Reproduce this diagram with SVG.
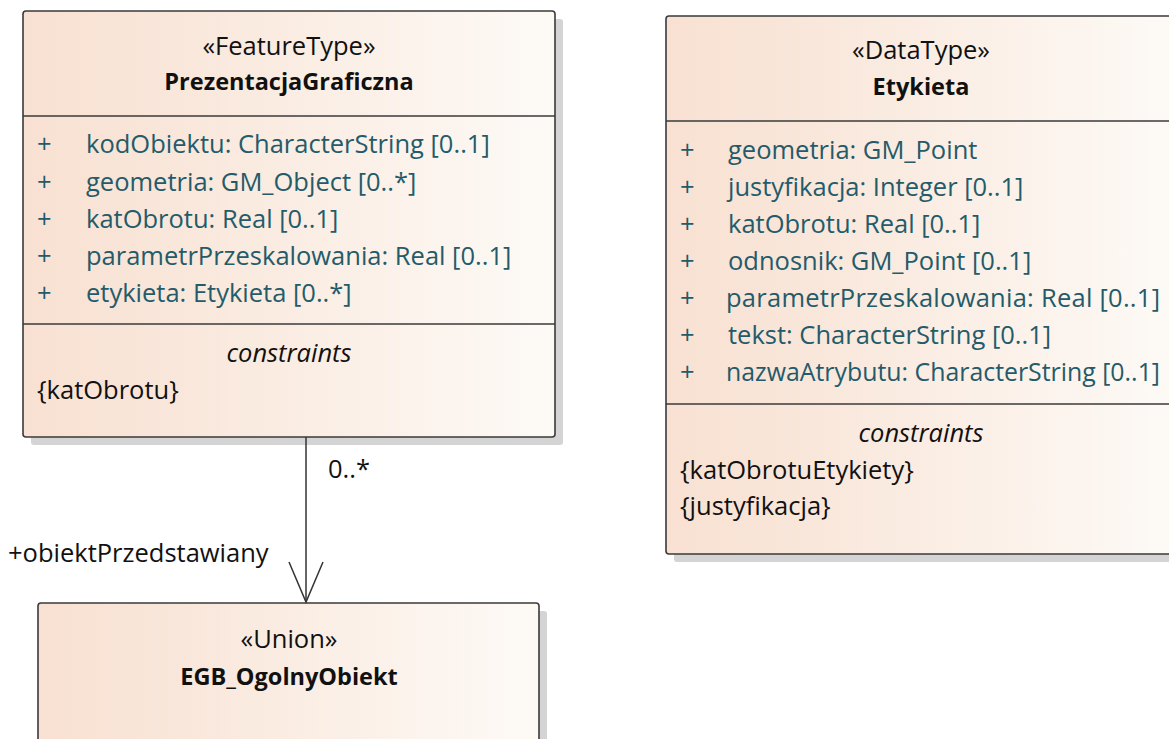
<svg xmlns="http://www.w3.org/2000/svg" width="1169" height="739" viewBox="0 0 1169 739">
<defs>
<linearGradient id="fill" x1="0" y1="0" x2="1" y2="0">
<stop offset="0" stop-color="#f8e1d2"/>
<stop offset="0.3" stop-color="#f9e7db"/>
<stop offset="1" stop-color="#fdfaf6"/>
</linearGradient>
<marker id="open" markerWidth="50" markerHeight="40" refX="0" refY="0" orient="auto" markerUnits="userSpaceOnUse" viewBox="-45 -20 50 40">
<path d="M-40,-17 L0,0 L-40,17" fill="none" stroke="#333" stroke-width="1.5"/>
</marker>
</defs>
<style>
text{font-family:"Open Sans","Noto Sans","Liberation Sans",sans-serif;font-size:25.5px;fill:#111}
.c{text-anchor:middle}
.b{font-weight:bold;font-size:23.5px}
.i{font-style:italic}
.a{fill:#245b6a}
.box{fill:url(#fill);stroke:#3a3a3a;stroke-width:1.6}
.sh{fill:#d4d4d4}
.div{stroke:#3a3a3a;stroke-width:1.6}
.conn{stroke:#333;stroke-width:1.5;fill:none}
</style>
<rect width="1169" height="739" fill="#fff"/>

<g id="PrezentacjaGraficzna">
<rect class="sh" x="31" y="19" width="532" height="426" rx="3"/>
<rect class="box" x="23" y="11" width="532" height="426" rx="3"/>
<line class="div" x1="23" y1="116" x2="555" y2="116"/>
<line class="div" x1="23" y1="324" x2="555" y2="324"/>
<text class="c" x="289" y="55">«FeatureType»</text>
<text class="c b" x="289" y="90">PrezentacjaGraficzna</text>
<text class="a" x="37" y="153">+</text><text class="a" x="86" y="153">kodObiektu: CharacterString [0..1]</text>
<text class="a" x="37" y="191">+</text><text class="a" x="86" y="191">geometria: GM_Object [0..*]</text>
<text class="a" x="37" y="228">+</text><text class="a" x="86" y="228">katObrotu: Real [0..1]</text>
<text class="a" x="37" y="265">+</text><text class="a" x="86" y="265">parametrPrzeskalowania: Real [0..1]</text>
<text class="a" x="37" y="302">+</text><text class="a" x="86" y="302">etykieta: Etykieta [0..*]</text>
<text class="c i" x="289" y="362">constraints</text>
<text x="37" y="399">{katObrotu}</text>
</g>

<g id="Etykieta">
<rect class="sh" x="674" y="24" width="510" height="538" rx="3"/>
<rect class="box" x="666" y="16" width="510" height="538" rx="3"/>
<line class="div" x1="666" y1="121" x2="1176" y2="121"/>
<line class="div" x1="666" y1="404" x2="1176" y2="404"/>
<text class="c" x="921" y="59">«DataType»</text>
<text class="c b" x="921" y="95">Etykieta</text>
<text class="a" x="680" y="159">+</text><text class="a" x="728" y="159">geometria: GM_Point</text>
<text class="a" x="680" y="196">+</text><text class="a" x="728" y="196">justyfikacja: Integer [0..1]</text>
<text class="a" x="680" y="233">+</text><text class="a" x="728" y="233">katObrotu: Real [0..1]</text>
<text class="a" x="680" y="270">+</text><text class="a" x="728" y="270">odnosnik: GM_Point [0..1]</text>
<text class="a" x="680" y="307">+</text><text class="a" x="726" y="307" textLength="434" lengthAdjust="spacing">parametrPrzeskalowania: Real [0..1]</text>
<text class="a" x="680" y="344">+</text><text class="a" x="728" y="344">tekst: CharacterString [0..1]</text>
<text class="a" x="680" y="381">+</text><text class="a" x="726" y="381" textLength="434" lengthAdjust="spacingAndGlyphs">nazwaAtrybutu: CharacterString [0..1]</text>
<text class="c i" x="921" y="442">constraints</text>
<text x="680" y="479">{katObrotuEtykiety}</text>
<text x="680" y="515">{justyfikacja}</text>
</g>

<g id="EGB_OgolnyObiekt">
<rect class="sh" x="46" y="611" width="501" height="160" rx="3"/>
<rect class="box" x="38" y="603" width="501" height="160" rx="3"/>
<text class="c" x="289" y="648">«Union»</text>
<text class="c b" x="289" y="685">EGB_OgolnyObiekt</text>
</g>

<g id="connectors">
<line class="conn" x1="306" y1="437" x2="306" y2="602" marker-end="url(#open)"/>
<text x="328" y="478">0..*</text>
<text x="8" y="562">+obiektPrzedstawiany</text>
</g>
</svg>
